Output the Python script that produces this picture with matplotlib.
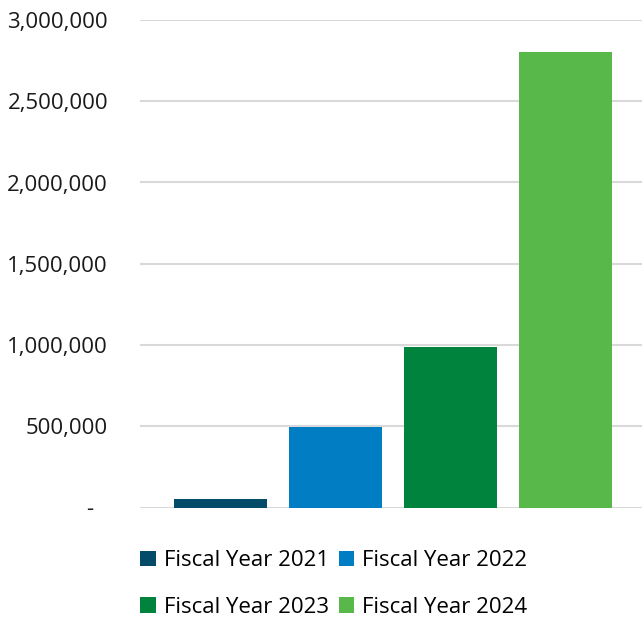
import matplotlib
matplotlib.use("Agg")
import matplotlib.pyplot as plt
from matplotlib.ticker import FuncFormatter, MultipleLocator
from matplotlib.transforms import ScaledTranslation

plt.rcParams['font.family'] = ['Open Sans', 'DejaVu Sans']

series = ["Fiscal Year 2021", "Fiscal Year 2022", "Fiscal Year 2023", "Fiscal Year 2024"]
values = [52000, 495000, 990000, 2803000]
colors = ["#024B69", "#007DC3", "#00843D", "#58B94A"]

fig = plt.figure(figsize=(6.42, 6.18), dpi=100)
ax = fig.add_axes([0.218, 1 - 507.5 / 618, 1 - 0.218, (507.5 - 20) / 618])

handles = []
for i, (s, v, c) in enumerate(zip(series, values, colors)):
    h = ax.bar(i, v, width=0.81, color=c, label=s, zorder=3)
    handles.append(h)

ax.set_ylim(0, 3000000)
ax.set_xlim(-0.70, 3.665)
ax.yaxis.set_major_locator(MultipleLocator(500000))
ax.yaxis.set_major_formatter(FuncFormatter(lambda v, p: "-" if v == 0 else f"{int(v):,}"))
ax.grid(axis='y', color='#d9d9d9', linewidth=1.5, zorder=0)
ax.set_xticks([])
for sp in ax.spines.values():
    sp.set_visible(False)
ax.tick_params(axis='y', length=0, pad=23, labelsize=16, labelcolor='#1a1a1a')

fig.canvas.draw()
for lab in ax.get_yticklabels():
    if lab.get_text() == "-":
        lab.set_transform(lab.get_transform() + ScaledTranslation(-15 / 100, 0, fig.dpi_scale_trans))

order = [0, 2, 1, 3]
fig.legend([handles[k] for k in order], [series[k] for k in order],
           loc='upper center', bbox_to_anchor=(0.52, 1 - 548 / 618), ncol=2, frameon=False,
           fontsize=16, handlelength=0.7, handleheight=0.7, handletextpad=0.35,
           columnspacing=0.45, labelspacing=1.15, borderaxespad=0, borderpad=0.1)

fig.savefig("out.png", dpi=100)
